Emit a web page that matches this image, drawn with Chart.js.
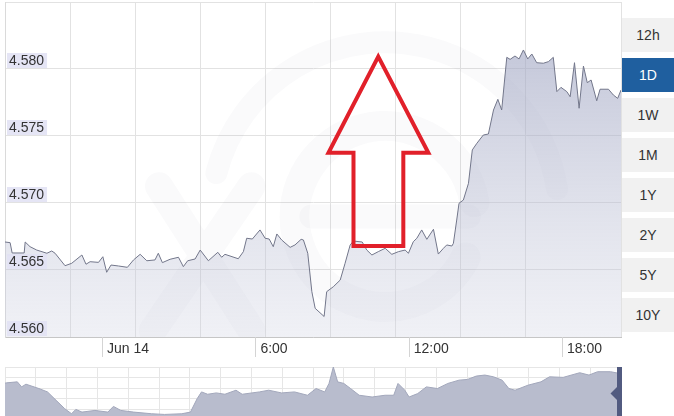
<!DOCTYPE html>
<html><head><meta charset="utf-8">
<script src="https://cdn.jsdelivr.net/npm/chart.js@4"></script>
<style>
html,body{margin:0;padding:0;background:#fff;width:674px;height:416px;overflow:hidden;}
canvas{position:absolute;left:0;}
#main{top:0;}
#nav{top:367px;}
.btn{position:absolute;left:622px;width:52px;height:34px;font:14px "Liberation Sans",Arial,sans-serif;line-height:34px;text-align:center;color:#333;background:#f1f1f1;}
.btn.active{background:#1f5f9f;color:#fff;}
</style></head><body>
<canvas id="main" width="622" height="366"></canvas>
<canvas id="nav" width="622" height="53"></canvas>
<div id="buttons"></div>
<script>
// ---- data ----
const hours = [-3.80,-3.60,-3.52,-3.05,-3.01,-2.82,-2.56,-2.16,-1.97,-1.84,
 -1.45,-1.19,-0.79,-0.63,-0.47,-0.14,0.03,0.18,0.35,0.64,
 0.99,1.23,1.49,1.75,2.07,2.20,2.36,2.66,2.99,3.18,
 3.35,3.64,3.84,4.16,4.53,4.68,4.81,5.33,5.53,5.66,
 5.88,6.18,6.38,6.54,6.70,6.84,7.03,7.36,7.55,7.79,
 7.88,8.05,8.21,8.34,8.69,8.79,9.05,9.32,9.51,9.71,
 9.84,10.18,10.36,10.56,10.81,11.08,11.34,11.60,11.86,11.99,
 12.18,12.32,12.51,12.71,12.97,13.16,13.36,13.49,13.69,13.75,
 13.88,13.97,14.14,14.34,14.49,14.67,14.92,15.12,15.32,15.49,
 15.64,15.84,15.97,16.16,16.32,16.49,16.66,16.82,17.01,17.27,
 17.47,17.66,17.80,17.96,18.19,18.32,18.49,18.67,18.84,18.99,
 19.14,19.36,19.49,19.82,20.01,20.18,20.31];
const rates = [4.56709,4.56704,4.56627,4.56627,4.56709,4.56674,4.56649,4.56625,4.56642,4.56625,
 4.56532,4.5655,4.56612,4.56543,4.56562,4.56557,4.56599,4.56483,4.56537,4.5653,
 4.5652,4.56575,4.56617,4.56569,4.56575,4.56625,4.56555,4.5658,4.56595,4.56525,
 4.56569,4.56582,4.56649,4.56569,4.56632,4.56595,4.56617,4.56584,4.56637,4.56737,
 4.56731,4.56799,4.56737,4.56731,4.56674,4.56769,4.56724,4.56669,4.56687,4.56729,
 4.56724,4.56625,4.56338,4.56214,4.56153,4.56338,4.56375,4.56425,4.5655,4.56687,
 4.56716,4.56709,4.56649,4.56612,4.56637,4.56662,4.56617,4.56637,4.56649,4.56625,
 4.56711,4.56737,4.56799,4.56729,4.56804,4.56619,4.56662,4.56687,4.56679,4.56699,
 4.56873,4.56998,4.57022,4.57147,4.57396,4.57446,4.57507,4.57515,4.57694,4.57774,
 4.57694,4.58087,4.58072,4.58097,4.58075,4.58142,4.58075,4.58112,4.58047,4.58043,
 4.58055,4.58087,4.57831,4.57863,4.57831,4.57793,4.58047,4.57707,4.58022,4.57898,
 4.57918,4.57763,4.57849,4.57849,4.57806,4.57781,4.57843];
const yTicks = [4.560,4.565,4.570,4.575,4.580,4.585];
const xTickHours = [0,6,12,18];
const xTickLabels = ['Jun 14','6:00','12:00','18:00'];
// navigator (overview) series: position along the period (%) and relative level (%)
const navPos = [0,0.24,2.0,2.7,3.4,5.5,6.9,8.3,9.7,10.8,11.5,12.5,14.6,16.7,17.6,18.8,20.9,23.8,25.9,28.7,30.1,
 31.2,31.9,32.9,34.3,35.7,37.5,38.5,41.3,42.8,44.9,47.0,49.1,50.5,51.9,52.6,53.3,54.0,55.0,56.1,57.5,
 59.6,61.7,63.1,63.8,64.9,65.6,67.0,68.4,70.2,71.9,73.7,75.1,76.5,77.9,79.3,80.7,81.8,82.8,84.9,87.0,
 88.4,90.6,93.3,94.8,96.2,98.3,99.7];
const navLevel = [69.5,70.1,72.0,62.5,67.6,59.4,53.0,37.1,21.3,11.8,20.0,14.9,18.1,14.9,25.7,18.1,14.9,11.8,10.5,11.8,14.9,
 40.4,53.0,48.6,51.1,48.6,56.2,48.6,53.0,56.2,51.1,53.0,46.7,59.4,53.0,69.0,100,72.0,69.0,59.4,46.7,
 43.4,46.7,46.7,69.0,56.2,43.4,49.9,62.5,59.4,69.0,75.2,76.6,82.9,84.8,81.5,75.2,59.4,56.2,65.7,72.0,
 81.5,80.4,89.2,84.8,91.1,91.1,88.0];
const ranges = ['12h','1D','1W','1M','1Y','2Y','5Y','10Y'];
const activeRange = '1D';
// annotation arrow (in data coordinates)
const arrowX = [10.81,12.77,11.79,11.79,9.84,9.84,8.86];
const arrowY = [4.58092,4.57375,4.57375,4.56679,4.56679,4.57375,4.57375];

const FONT = '"Liberation Sans Narrow","Liberation Sans",Arial,sans-serif';

// buttons
const bwrap = document.getElementById('buttons');
ranges.forEach((r,i)=>{
  const d=document.createElement('div');
  d.className='btn'+(r===activeRange?' active':'');
  d.style.top=(18+i*40)+'px';
  d.textContent=r;
  bwrap.appendChild(d);
});

const decor = {
  id:'decor',
  beforeDatasetsDraw(chart){
    const c=chart.ctx, a=chart.chartArea;
    const W=a.right-a.left, H=a.bottom-a.top;
    c.save();
    c.beginPath(); c.rect(a.left,a.top,W,H); c.clip();
    c.strokeStyle='rgba(40,40,90,0.025)';
    c.lineCap='round';
    const cx=a.left+W*0.617, cy=a.top+H*0.64;
    c.lineWidth=22;
    c.beginPath(); c.arc(cx,cy,H*0.52,Math.PI*1.08,Math.PI*1.95); c.stroke();
    c.lineWidth=30;
    c.beginPath(); c.arc(cx,cy,H*0.27,Math.PI*0.15,Math.PI*1.95); c.stroke();
    c.lineWidth=24;
    c.beginPath(); c.moveTo(cx-H*0.22,cy); c.lineTo(cx+H*0.25,cy); c.stroke();
    c.lineWidth=28;
    c.beginPath(); c.moveTo(a.left+W*0.25,a.top+H*0.55); c.lineTo(a.left+W*0.4,a.top+H*0.98);
    c.moveTo(a.left+W*0.4,a.top+H*0.55); c.lineTo(a.left+W*0.24,a.top+H*0.98); c.stroke();
    c.restore();
  },
  afterDatasetsDraw(chart){
    const c=chart.ctx, a=chart.chartArea, y=chart.scales.y, x=chart.scales.x;
    c.save();
    c.font='14px '+FONT;
    c.textBaseline='middle';
    yTicks.forEach(v=>{
      if(v>=y.max-1e-9) return;
      const py=y.getPixelForValue(v);
      const t=v.toFixed(3);
      const w=c.measureText(t).width;
      c.fillStyle='rgba(226,226,244,0.9)';
      c.fillRect(a.left+2,py-16,w+5,15);
      c.fillStyle='#333';
      c.fillText(t,a.left+4,py-8);
    });
    // tick marks beside x labels
    c.strokeStyle='#d4d4d4'; c.lineWidth=1;
    xTickHours.forEach(h=>{
      const px=Math.round(x.getPixelForValue(h))+0.5;
      c.beginPath(); c.moveTo(px,x.top); c.lineTo(px,x.top+20); c.stroke();
    });
    // red arrow annotation
    c.strokeStyle='#e1202a'; c.lineWidth=4; c.lineJoin='miter';
    c.beginPath();
    arrowX.forEach((hx,i)=>{
      const px=x.getPixelForValue(hx), py=y.getPixelForValue(arrowY[i]);
      if(i===0) c.moveTo(px,py); else c.lineTo(px,py);
    });
    c.closePath(); c.stroke();
    c.restore();
  }
};

new Chart(document.getElementById('main'),{
  type:'line',
  data:{datasets:[{
    data:hours.map((h,i)=>({x:h,y:rates[i]})),
    borderColor:'#72768a', borderWidth:1, pointRadius:0, tension:0,
    fill:'start',
    backgroundColor:(ctx)=>{
      const ch=ctx.chart, a=ch.chartArea; if(!a) return 'rgba(200,203,220,0.5)';
      const g=ch.ctx.createLinearGradient(0,a.top,0,a.bottom);
      g.addColorStop(0,'rgba(150,156,188,0.65)');
      g.addColorStop(1,'rgba(205,208,224,0.3)');
      return g;
    }
  }]},
  options:{
    responsive:false, animation:false, events:[],
    plugins:{legend:{display:false},tooltip:{enabled:false}},
    layout:{padding:{left:5,top:2,right:1,bottom:0}},
    scales:{
      x:{type:'linear',min:hours[0],max:hours[hours.length-1],
        afterBuildTicks:s=>{s.ticks=xTickHours.map(v=>({value:v}));},
        ticks:{callback:v=>xTickLabels[xTickHours.indexOf(v)],align:'start',labelOffset:5,padding:4,
          color:'#333',font:{family:FONT,size:14},maxRotation:0,autoSkip:false},
        grid:{drawOnChartArea:false,drawTicks:false},
        border:{color:'#c6c6c6'},
        afterFit:s=>{s.height=29;}
      },
      xg:{type:'linear',position:'top',min:0,max:616/65,
        ticks:{display:false,stepSize:1},
        grid:{color:'#e2e2e2',drawTicks:false},
        border:{display:false},
        afterFit:s=>{s.height=0;}
      },
      y:{type:'linear',min:yTicks[0],max:yTicks[yTicks.length-1],
        afterBuildTicks:s=>{s.ticks=yTicks.map(v=>({value:v}));},
        ticks:{display:false},
        grid:{color:'#e2e2e2',drawTicks:false},
        border:{display:true,color:'#dadada'},
        afterFit:s=>{s.width=0;}
      }
    }
  },
  plugins:[decor]
});

const handle = {
  id:'handle',
  afterDraw(chart){
    const c=chart.ctx, x=chart.scales.x, a=chart.chartArea;
    const px=x.getPixelForValue(x.max)-1.5;
    const cy=26.5;
    c.save();
    c.fillStyle='#525b80';
    c.fillRect(px-2.5,a.top,5,chart.height);
    c.beginPath(); c.moveTo(px,cy-9); c.lineTo(px+9,cy); c.lineTo(px,cy+9); c.lineTo(px-9,cy); c.closePath(); c.fill();
    c.restore();
  }
};

new Chart(document.getElementById('nav'),{
  type:'line',
  data:{datasets:[{
    data:navPos.map((p,i)=>({x:p,y:navLevel[i]})),
    borderColor:'#a2a7bb', borderWidth:1, pointRadius:0, tension:0,
    fill:'start', backgroundColor:'#b8bccd'
  }]},
  options:{
    responsive:false, animation:false, events:[],
    plugins:{legend:{display:false},tooltip:{enabled:false}},
    layout:{padding:{left:5,top:0,right:1,bottom:0}},
    scales:{
      x:{type:'linear',min:0,max:100,ticks:{display:false,stepSize:5},
        grid:{color:'#e6e6e6',drawTicks:false},border:{display:false},
        afterFit:s=>{s.height=0;}},
      y:{type:'linear',min:0,max:100,ticks:{display:false,stepSize:20},
        grid:{color:'#e6e6e6',drawTicks:false},border:{display:false},
        afterFit:s=>{s.width=0;}}
    }
  },
  plugins:[handle]
});
</script>
</body></html>
